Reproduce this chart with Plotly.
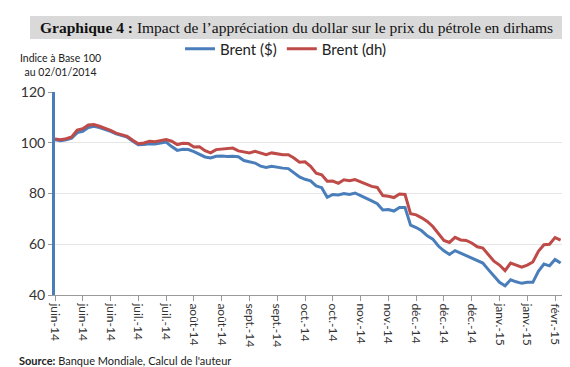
import plotly.graph_objects as go

# Trading-day index (every second session)
day_index = list(range(0, 184, 2))

brent_usd = [101.2, 100.8, 101.2, 101.8, 104.0, 104.5, 106.0, 106.5, 106.0, 105.4,
             104.5, 103.5, 102.8, 102.2, 100.6, 99.2, 99.3, 99.6, 99.5, 100.0,
             100.3, 98.5, 97.0, 97.4, 97.3, 96.5, 95.4, 94.4, 94.0, 94.7,
             94.8, 94.6, 94.7, 94.5, 93.0, 92.6, 92.0, 90.8, 90.3, 90.7,
             90.2, 90.0, 89.8, 88.0, 86.5, 85.6, 85.0, 83.0, 82.3, 78.5,
             79.6, 79.4, 80.0, 79.6, 80.2, 79.2, 78.0, 77.1, 76.0, 73.5,
             73.7, 73.1, 74.5, 74.5, 67.5, 66.6, 65.3, 63.3, 62.0, 59.3,
             57.4, 56.0, 57.5, 56.5, 55.8, 54.8, 53.6, 52.6, 50.0, 47.6,
             45.0, 43.6, 46.0, 45.2, 44.6, 45.0, 45.0, 49.3, 52.2, 51.5,
             54.0, 52.6]

brent_dh = [101.5, 101.2, 101.6, 102.3, 105.0, 105.5, 107.0, 107.2, 106.5, 105.8,
            104.9, 103.8, 103.0, 102.5, 101.0, 99.6, 99.9, 100.6, 100.4, 101.0,
            101.3, 100.6, 99.3, 99.8, 99.7, 98.3, 98.4, 96.9, 96.0, 97.3,
            97.5, 97.6, 97.9, 96.8, 96.3, 96.0, 96.6, 96.0, 95.3, 96.0,
            95.5, 95.3, 95.3, 94.0, 92.3, 92.5, 90.7, 88.0, 87.4, 84.8,
            84.9, 84.0, 85.4, 85.0, 85.5, 84.6, 83.6, 82.8, 82.4, 79.2,
            78.9, 78.4, 79.8, 79.6, 72.0, 71.6, 70.4, 69.0, 67.0, 64.0,
            61.5, 60.7, 62.7, 61.7, 61.5, 60.5, 59.0, 58.5, 56.0, 53.3,
            51.8, 49.6, 52.6, 51.8, 51.0, 51.8, 53.0, 57.2, 59.8, 60.0,
            62.6, 61.6]

tick_positions = list(range(0, 181, 10))
tick_labels = ["juin-14", "juin-14", "juin-14", "juil.-14", "juil.-14",
               "août-14", "août-14", "sept.-14", "sept.-14", "oct.-14",
               "oct.-14", "nov.-14", "nov.-14", "déc.-14", "déc.-14",
               "déc.-14", "janv.-15", "janv.-15", "févr.-15"]
y_ticks = [40, 60, 80, 100, 120]

BLUE = "#4a7ebb"
RED = "#be4b48"
FONT = "Lato"

W, H = 570, 367
L, R, T, B = 47, 16, 84, 80
PW = W - L - R
PH = H - T - B

def px(x):
    return (x - L) / PW

def py(y):
    return (H - B - y) / PH

fig = go.Figure()
fig.add_trace(go.Scatter(x=day_index, y=brent_usd, mode="lines", name="Brent ($)",
                         line=dict(color=BLUE, width=3)))
fig.add_trace(go.Scatter(x=day_index, y=brent_dh, mode="lines", name="Brent (dh)",
                         line=dict(color=RED, width=3)))

fig.update_layout(
    width=W, height=H,
    margin=dict(l=L, r=R, t=T, b=B, pad=0),
    paper_bgcolor="white", plot_bgcolor="white",
    font=dict(family=FONT, color="#333333"),
    showlegend=True,
    legend=dict(orientation="h", x=px(172), y=py(41), xanchor="left", yanchor="middle",
                font=dict(family=FONT, size=15, color="#222222"),
                bgcolor="rgba(0,0,0,0)", itemwidth=30, tracegroupgap=0),
    xaxis=dict(range=[0, 182.5], tickmode="array", tickvals=tick_positions,
               ticktext=tick_labels, tickangle=90, ticks="outside", ticklen=5,
               tickcolor="#999999", showline=True, linecolor="#999999", linewidth=1,
               showgrid=False, zeroline=False,
               tickfont=dict(family=FONT, size=12, color="#333333")),
    yaxis=dict(range=[40, 120], tickvals=y_ticks, ticks="outside", ticklen=4,
               tickcolor="#999999", showline=True, linecolor=BLUE, linewidth=3,
               showgrid=True, gridcolor="#e6e6e6", gridwidth=1, zeroline=False,
               tickfont=dict(family=FONT, size=14, color="#333333")),
    shapes=[
        dict(type="rect", xref="paper", yref="paper", x0=px(22), x1=px(557),
             y0=py(31), y1=py(8), fillcolor="#d9d9d9", line=dict(width=0), layer="below"),
        dict(type="line", xref="paper", yref="paper", x0=px(561), x1=px(561),
             y0=py(367), y1=py(0), line=dict(color="#333333", width=1.5)),
    ],
    annotations=[
        dict(text="<b>Graphique 4 :</b> Impact de l’appréciation du dollar sur le prix du pétrole en dirhams",
             xref="paper", yref="paper", x=px(30), y=py(19.5), xanchor="left", yanchor="middle",
             showarrow=False, font=dict(family="Liberation Serif", size=15.5, color="#111111")),
        dict(text="Indice à Base 100<br>au 02/01/2014", xref="paper", yref="paper",
             x=px(52), y=py(57), xanchor="center", yanchor="middle", align="center",
             showarrow=False, font=dict(family=FONT, size=10.5, color="#222222")),
        dict(text="<b>Source:</b> Banque Mondiale, Calcul de l'auteur", xref="paper", yref="paper",
             x=px(9), y=py(352), xanchor="left", yanchor="middle", showarrow=False,
             font=dict(family=FONT, size=11, color="#222222")),
    ],
)

fig.write_html("out.html")
